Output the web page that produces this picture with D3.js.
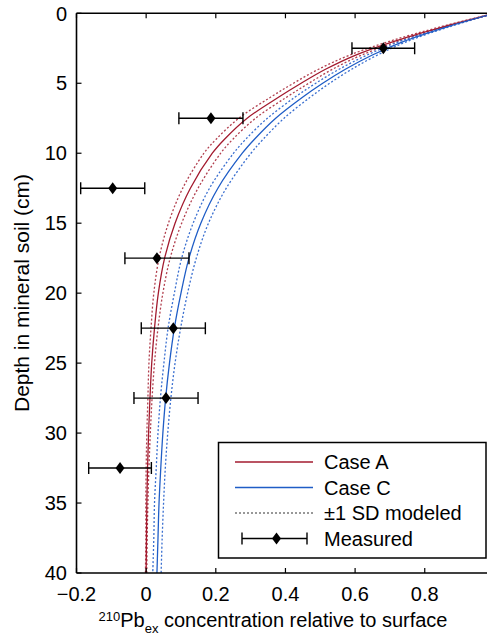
<!DOCTYPE html>
<html>
<head>
<meta charset="utf-8">
<script src="https://cdn.jsdelivr.net/npm/d3@7"></script>
<style>
  body { margin: 0; background: #fff; }
  text { font-family: "Liberation Sans", Arial, sans-serif; fill: #000; }
</style>
</head>
<body>
<div id="chart"></div>
<script>
// depth grid (cm) for the modeled profiles
var depths = [0, 1, 2, 3, 4, 5, 6, 7.5, 9, 10, 12.5, 15, 17.5, 20, 22.5, 25, 27.5, 30, 32.5, 35, 37.5, 40];

// Case A (red) and its +-1 SD
var caseA     = [1.0, 0.848, 0.712, 0.600, 0.515, 0.445, 0.380, 0.290, 0.225, 0.190, 0.127, 0.083, 0.053, 0.035, 0.024, 0.016, 0.011, 0.007, 0.004, 0.002, 0.001, 0.000];
var caseA_lo  = [1.0, 0.840, 0.699, 0.583, 0.495, 0.423, 0.357, 0.266, 0.201, 0.166, 0.105, 0.064, 0.037, 0.022, 0.014, 0.008, 0.005, 0.002, 0.000, -0.001, -0.001, -0.002];
var caseA_hi  = [1.0, 0.856, 0.725, 0.617, 0.535, 0.467, 0.403, 0.314, 0.249, 0.214, 0.149, 0.102, 0.069, 0.048, 0.034, 0.024, 0.017, 0.012, 0.008, 0.005, 0.003, 0.002];

// Case C (blue) and its +-1 SD
var caseC     = [1.0, 0.860, 0.740, 0.648, 0.572, 0.507, 0.449, 0.372, 0.311, 0.276, 0.206, 0.157, 0.123, 0.100, 0.081, 0.067, 0.056, 0.048, 0.042, 0.037, 0.034, 0.031];
var caseC_lo  = [1.0, 0.854, 0.729, 0.633, 0.554, 0.487, 0.427, 0.348, 0.286, 0.251, 0.182, 0.135, 0.102, 0.081, 0.063, 0.051, 0.041, 0.034, 0.029, 0.024, 0.022, 0.019];
var caseC_hi  = [1.0, 0.866, 0.751, 0.663, 0.590, 0.527, 0.471, 0.396, 0.336, 0.301, 0.230, 0.179, 0.144, 0.119, 0.099, 0.083, 0.071, 0.062, 0.055, 0.050, 0.046, 0.043];

// measured profile
var measDepth = [2.5, 7.5, 12.5, 17.5, 22.5, 27.5, 32.5];
var measVal   = [0.681, 0.186, -0.096, 0.031, 0.078, 0.057, -0.075];
var measErr   = [0.090, 0.092, 0.092, 0.092, 0.092, 0.092, 0.090];

var xTicks = [-0.2, 0, 0.2, 0.4, 0.6, 0.8];
var yTicks = [0, 5, 10, 15, 20, 25, 30, 35, 40];

var W = 487, H = 638;
var red = "#a31b2f", blue = "#1f5dc6";
var redDash = "#b2404f", blueDash = "#3a6fd0";

var svg = d3.select("#chart").append("svg")
  .attr("width", W).attr("height", H);

var x = d3.scaleLinear().domain([-0.2, 1.0]).range([76.5, 494.4]);
var y = d3.scaleLinear().domain([0, 40]).range([13.3, 573]);

svg.append("clipPath").attr("id", "plotclip")
  .append("rect").attr("x", x(-0.2)).attr("y", y(0)).attr("width", W - x(-0.2)).attr("height", y(40) - y(0));

var plot = svg.append("g").attr("clip-path", "url(#plotclip)");

function profile(vals) {
  return d3.line()
    .x(function (d, i) { return x(vals[i]); })
    .y(function (d) { return y(d); })
    .curve(d3.curveCatmullRom.alpha(0.5))(depths);
}

var curves = [
  { v: caseA_lo, c: redDash, dash: "2,2" },
  { v: caseA_hi, c: redDash, dash: "2,2" },
  { v: caseC_lo, c: blueDash, dash: "2,2" },
  { v: caseC_hi, c: blueDash, dash: "2,2" },
  { v: caseA, c: red, dash: null },
  { v: caseC, c: blue, dash: null }
];
curves.forEach(function (k) {
  plot.append("path")
    .attr("d", profile(k.v))
    .attr("fill", "none")
    .attr("stroke", k.c)
    .attr("stroke-width", 1.3)
    .attr("stroke-dasharray", k.dash);
});

// measured points with horizontal error bars
var cap = 6;
var meas = plot.selectAll(".meas").data(measDepth).enter().append("g");
meas.append("line")
  .attr("x1", function (d, i) { return x(measVal[i] - measErr[i]); })
  .attr("x2", function (d, i) { return x(measVal[i] + measErr[i]); })
  .attr("y1", function (d) { return y(d); })
  .attr("y2", function (d) { return y(d); })
  .attr("stroke", "#000").attr("stroke-width", 1.4);
[-1, 1].forEach(function (s) {
  meas.append("line")
    .attr("x1", function (d, i) { return x(measVal[i] + s * measErr[i]); })
    .attr("x2", function (d, i) { return x(measVal[i] + s * measErr[i]); })
    .attr("y1", function (d) { return y(d) - cap; })
    .attr("y2", function (d) { return y(d) + cap; })
    .attr("stroke", "#000").attr("stroke-width", 1.4);
});
function diamond(cx, cy) {
  return "M" + cx + "," + (cy - 6) + "L" + (cx + 4.5) + "," + cy + "L" + cx + "," + (cy + 6) + "L" + (cx - 4.5) + "," + cy + "Z";
}
meas.append("path")
  .attr("d", function (d, i) { return diamond(x(measVal[i]), y(d)); })
  .attr("fill", "#000");

// axes: frame lines on top, left, bottom (right side cut off)
var ax = svg.append("g").attr("stroke", "#000").attr("fill", "none");
ax.append("line").attr("x1", x(-0.2)).attr("x2", W).attr("y1", y(0)).attr("y2", y(0)).attr("stroke-width", 1.6);
ax.append("line").attr("x1", x(-0.2)).attr("x2", W).attr("y1", y(40)).attr("y2", y(40)).attr("stroke-width", 1.6);
ax.append("line").attr("x1", x(-0.2)).attr("x2", x(-0.2)).attr("y1", y(0)).attr("y2", y(40)).attr("stroke-width", 1.6);

var tl = 5;
xTicks.forEach(function (t) {
  ax.append("line").attr("x1", x(t)).attr("x2", x(t)).attr("y1", y(0)).attr("y2", y(0) + tl).attr("stroke-width", 1.2);
  ax.append("line").attr("x1", x(t)).attr("x2", x(t)).attr("y1", y(40)).attr("y2", y(40) - tl).attr("stroke-width", 1.2);
});
yTicks.forEach(function (t) {
  ax.append("line").attr("x1", x(-0.2)).attr("x2", x(-0.2) + tl).attr("y1", y(t)).attr("y2", y(t)).attr("stroke-width", 1.2);
});

var fs = 20;
svg.selectAll(".xt").data(xTicks).enter().append("text")
  .attr("x", function (d) { return x(d); })
  .attr("y", 600.5)
  .attr("text-anchor", "middle")
  .style("font-size", fs + "px")
  .text(function (d) { return d === 0 ? "0" : (d < 0 ? "\u2212" : "") + Math.abs(d).toFixed(1); });

svg.selectAll(".yt").data(yTicks).enter().append("text")
  .attr("x", 67)
  .attr("y", function (d) { return y(d); })
  .attr("dy", "0.36em")
  .attr("text-anchor", "end")
  .style("font-size", fs + "px")
  .text(function (d) { return d; });

// axis titles
var xl = svg.append("text")
  .attr("x", 273).attr("y", 627)
  .attr("text-anchor", "middle")
  .style("font-size", fs + "px");
xl.append("tspan").attr("dy", -6).style("font-size", "13px").text("210");
xl.append("tspan").attr("dy", 6).text("Pb");
xl.append("tspan").attr("dy", 6).style("font-size", "13px").text("ex");
xl.append("tspan").attr("dy", -6).text(" concentration relative to surface");

svg.append("text")
  .attr("transform", "translate(29,293) rotate(-90)")
  .attr("text-anchor", "middle")
  .style("font-size", "21px")
  .text("Depth in mineral soil (cm)");

// legend
var lg = svg.append("g");
lg.append("rect")
  .attr("x", 218.5).attr("y", 442.5).attr("width", 267.5).attr("height", 115.5)
  .attr("fill", "#fff").attr("stroke", "#000").attr("stroke-width", 1.5);

var legItems = ["Case A", "Case C", "\u00b11 SD modeled", "Measured"];
var legRowY = [462, 487.5, 513, 538.5];
var lx1 = 235, lx2 = 313;
lg.append("line").attr("x1", lx1).attr("x2", lx2).attr("y1", legRowY[0]).attr("y2", legRowY[0]).attr("stroke", red).attr("stroke-width", 1.3);
lg.append("line").attr("x1", lx1).attr("x2", lx2).attr("y1", legRowY[1]).attr("y2", legRowY[1]).attr("stroke", blue).attr("stroke-width", 1.3);
lg.append("line").attr("x1", lx1).attr("x2", lx2).attr("y1", legRowY[2]).attr("y2", legRowY[2]).attr("stroke", "#333").attr("stroke-width", 1.1).attr("stroke-dasharray", "2,2");
lg.append("line").attr("x1", 242).attr("x2", 307).attr("y1", legRowY[3]).attr("y2", legRowY[3]).attr("stroke", "#000").attr("stroke-width", 1.4);
[242, 307].forEach(function (cx) {
  lg.append("line").attr("x1", cx).attr("x2", cx).attr("y1", legRowY[3] - cap).attr("y2", legRowY[3] + cap).attr("stroke", "#000").attr("stroke-width", 1.4);
});
lg.append("path").attr("d", diamond(276.5, legRowY[3])).attr("fill", "#000");

lg.selectAll(".lt").data(legItems).enter().append("text")
  .attr("x", 324)
  .attr("y", function (d, i) { return legRowY[i]; })
  .attr("dy", "0.36em")
  .style("font-size", fs + "px")
  .text(function (d) { return d; });
</script>
</body>
</html>
